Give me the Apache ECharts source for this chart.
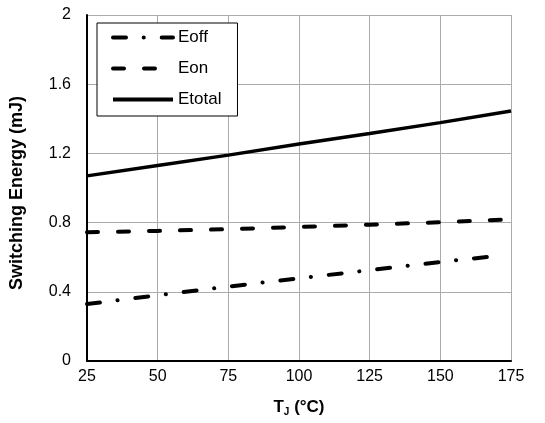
<!DOCTYPE html>
<html>
<head>
<meta charset="utf-8">
<script src="https://cdn.jsdelivr.net/npm/echarts@6/dist/echarts.min.js"></script>
<style>html,body{margin:0;padding:0;background:#fff}#c{width:545px;height:423px}</style>
</head>
<body>
<div id="c"></div>
<script>
var tempX = [25, 50, 75, 100, 125, 150, 175];
var eoffX = [25, 50, 75, 100, 125, 150, 172];
var eoffVals = [0.329, 0.38, 0.43, 0.478, 0.525, 0.572, 0.611];
var eonVals = [0.744, 0.752, 0.762, 0.775, 0.788, 0.802, 0.819];
var etotalVals = [1.07, 1.13, 1.19, 1.254, 1.315, 1.378, 1.445];
var seriesNames = ['Eoff', 'Eon', 'Etotal'];

function pairs(xs, ys) { return xs.map(function (x, i) { return [x, ys[i]]; }); }

var offDash = [13, 17.7, 0.1, 17.9];
var onDash = [11, 20];
var chart = echarts.init(document.getElementById('c'), null, { renderer: 'canvas' });
var font = 'Arial, "Liberation Sans", sans-serif';
chart.setOption({
  animation: false,
  backgroundColor: '#fff',
  grid: { left: 86, right: 34, top: 15, bottom: 62 },
  legend: {
    orient: 'vertical', left: 97, top: 23,
    data: [
      { name: seriesNames[0], itemStyle: { opacity: 0 }, lineStyle: { color: '#000', width: 4, type: offDash, cap: 'round' } },
      { name: seriesNames[1], itemStyle: { opacity: 0 }, lineStyle: { color: '#000', width: 4, type: onDash, cap: 'round' } },
      { name: seriesNames[2], itemStyle: { opacity: 0 }, lineStyle: { color: '#000', width: 4, type: 'solid' } }
    ],
    itemWidth: 60, itemHeight: 14, itemGap: 14,
    padding: [6, 16, 8, 14],
    borderColor: '#000', borderWidth: 1, backgroundColor: '#fff',
    textStyle: { fontFamily: font, fontSize: 17, color: '#000' }
  },
  xAxis: {
    type: 'value', min: 25, max: 175, interval: 25,
    name: '{b|T}{s|J}{b| (°C)}', nameLocation: 'middle', nameGap: 36,
    nameTextStyle: { rich: {
      b: { fontFamily: font, fontSize: 17, fontWeight: 'bold', color: '#000' },
      s: { fontFamily: font, fontSize: 10, fontWeight: 'bold', color: '#000', verticalAlign: 'bottom', padding: [10, 0, 0, 0] }
    } },
    axisLine: { lineStyle: { color: '#000', width: 2 } },
    axisTick: { show: false },
    axisLabel: { fontFamily: font, fontSize: 16, color: '#000', margin: 8 },
    splitLine: { show: true, lineStyle: { color: '#ababab', width: 1 } }
  },
  yAxis: {
    type: 'value', min: 0, max: 2, interval: 0.4,
    name: 'Switching Energy (mJ)', nameLocation: 'middle', nameGap: 61,
    nameTextStyle: { fontFamily: font, fontSize: 18, fontWeight: 'bold', color: '#000', padding: [0, 10, 0, 0] },
    axisLine: { show: true, lineStyle: { color: '#000', width: 2 } },
    axisTick: { show: false },
    axisLabel: { fontFamily: font, fontSize: 16, color: '#000', margin: 16 },
    splitLine: { show: true, lineStyle: { color: '#ababab', width: 1 } }
  },
  series: [
    { name: 'Eoff', type: 'line', showSymbol: false, symbol: 'none', z: 3,
      data: pairs(eoffX, eoffVals),
      lineStyle: { color: '#000', width: 4, type: offDash, cap: 'round' },
      itemStyle: { color: '#000' } },
    { name: 'Eon', type: 'line', showSymbol: false, symbol: 'none', z: 3,
      data: pairs(tempX, eonVals),
      lineStyle: { color: '#000', width: 4, type: onDash, cap: 'round' },
      itemStyle: { color: '#000' } },
    { name: 'Etotal', type: 'line', showSymbol: false, symbol: 'none', z: 3,
      data: pairs(tempX, etotalVals),
      lineStyle: { color: '#000', width: 3.5 },
      itemStyle: { color: '#000' } }
  ]
});
</script>
</body>
</html>
